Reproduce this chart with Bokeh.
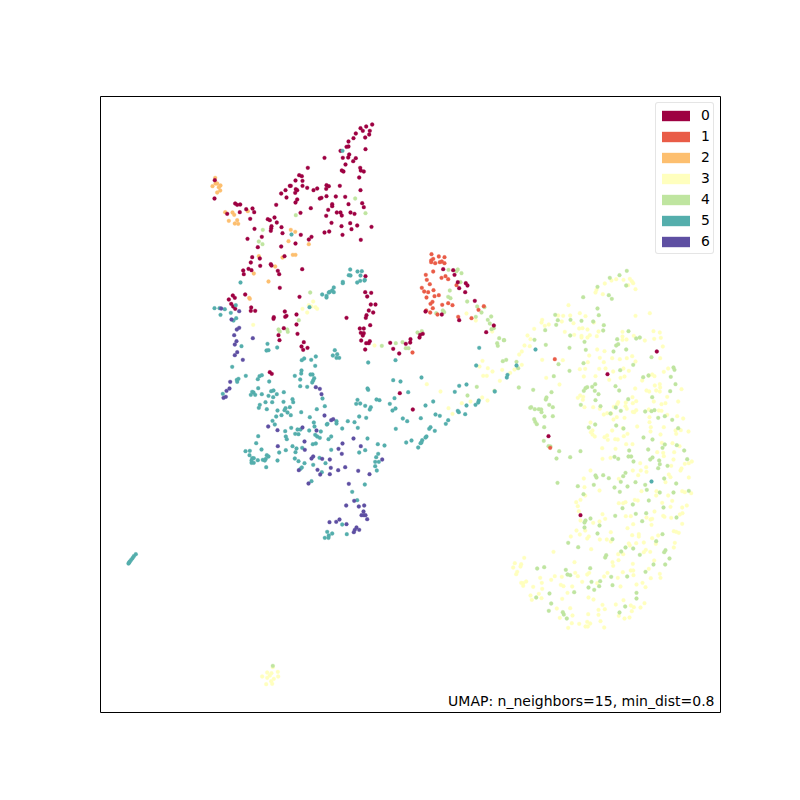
from bokeh.plotting import figure
from bokeh.models import Range1d, Legend, LegendItem, Label
from bokeh.embed import file_html
from bokeh.resources import INLINE

labels = ["0", "1", "2", "3", "4", "5", "6"]
colors = ["#9e0142", "#e95c47", "#fdbf6f", "#ffffbe", "#bfe5a0", "#54aeac", "#5e4fa2"]
annotation = "UMAP: n_neighbors=15, min_dist=0.8"

pts0 = [(371.7,124),(365.7,126),(360,127.7),(362.3,130.3),(369.3,130.3),(368.7,134),(355.3,133),(364.7,137),(353,137.7),(348,141),(346,146.3),(348,146),(340,150.3),(365,148.7),(348.7,154),(347.7,157),(342.3,157.3),(355.3,157.7),(352.7,160.7),(324,157.3),(345,164),(307.3,167.3),(359.7,167.3),(360.3,170),(363.3,171),(341.3,170),(343,171),(298.7,174.7),(301.3,175.7),(358.7,177),(295,180),(302,180.3),(214.3,179.7),(326,184.7),(328.3,185.7),(325.7,188.3),(339.3,185.3),(289.3,185.3),(290.3,185.3),(302,185.3),(306.7,187.3),(316.7,188),(313,189.7),(295.3,188.7),(296.7,189.7),(285,189.7),(360,189.7),(294.7,192.3),(280.7,193),(326,195.7),(335.3,196),(344.7,196.3),(321,197.3),(319.3,198),(286,197),(296.7,199),(214,198),(295,202),(331.7,203.7),(331.7,205.7),(348,203.7),(361.7,202.7),(363.3,206.7),(275.7,204.3),(310.3,207.7),(327.7,209.3),(234.7,203),(236.7,204.3),(239.7,204),(245.7,208.7),(252,208),(253.7,211.7),(226.7,213.3),(239.3,211.7),(300,212.3),(336.3,212),(340,212),(350,212),(354,213.3),(341.3,215),(325.7,215.3),(249.7,218.3),(274,217),(267.3,218.7),(269.3,219.7),(276.3,222),(331,222.3),(349.7,222.7),(341,225.7),(356.7,225),(371,226.3),(271,225.7),(270.7,227.7),(270.3,230.3),(281,226.7),(254,228.3),(351,228.7),(324,232),(328.7,231),(282,232.7),(300.3,234.3),(342,234.3),(261.3,236.3),(247,238.3),(311,236.3),(308.3,239),(360.3,239.3),(295,243),(280.7,246),(257.3,246.7),(284,255.7),(251.7,256.7),(259.3,258),(250.3,262),(270.3,263.7),(271,265),(259.7,265.3),(301.7,268.7),(248,268.3),(251,269.7),(242.7,270),(243.3,273.7),(277.3,270.3),(278.7,273.7),(365,275.7),(279.3,287.3),(364.7,291.7),(370.7,292.3),(366.7,296),(299,296.3),(232.3,295),(234.3,297.3),(244.7,294),(228.3,299),(230.7,303.3),(232.7,306),(234.7,308.3),(250.7,307),(254.7,310.3),(250.3,310.3),(284.3,311),(273.3,316.7),(273,318.3),(286,315.3),(284.7,316.3),(296,314),(296,324),(283.3,327.7),(278,334.7),(297,333.3),(279,339.7),(303.3,341.7),(301,346),(302.7,349.3),(307,347.3),(370.3,304),(375,304),(368.3,310),(372.7,312),(366,314.7),(365.3,317.3),(346,317.3),(369.7,324.7),(359.3,328),(363.3,328),(360.3,332.3),(363.3,332.7),(362.3,335),(360.7,340),(365.7,342.7),(368.3,342.7),(369.3,340.7),(364.7,349),(389.7,342.3),(392.7,348.3),(398.7,353),(269.3,371.7),(271.3,373.3),(399.3,392.7),(442.7,268.7),(452.7,269.7),(454,274.3),(457.3,281.7),(458.7,287.7),(465.3,282.7),(467,285),(464.7,291.7),(474.3,300.3),(425,311),(441.3,314),(458.7,319.7),(493.3,325),(485.7,331.7),(422.3,333.3),(419.7,334.3),(419,337),(410,338.7),(409.7,342),(405.3,343.3),(412.3,409),(656.3,351),(607,373.7),(548,435.7),(580,514.7)]

pts1 = [(431,253.7),(438.3,256),(444,256.7),(432.7,258.3),(430.7,260),(430.7,261.7),(434.7,262.7),(439.3,261.7),(441.3,261),(444,262.7),(432.7,271),(425.3,274.3),(426.3,279.3),(441,277.3),(445,275.7),(447.7,278.7),(429.3,283.7),(456,284.7),(421.3,287.3),(423.7,291),(427.7,291.7),(433,289.7),(426,297),(434,295.7),(438.3,294.7),(432,301.3),(430,303.3),(441.7,304.3),(447.7,302.7),(452,304.7),(432.3,307.7),(478,309.3),(483.3,305.7),(425.7,310),(429.7,312),(437,314),(457.7,316.3),(471,317.7),(412,352),(554.3,358.7),(549.7,447.3)]

pts2 = [(214.7,177.3),(215,183),(216.7,183),(220,185),(218.3,186.7),(212,185.7),(219.7,190),(216.7,192),(224.7,211.7),(232,212),(233.7,214.3),(247.3,210.7),(228.3,220.3),(236.7,219.7),(234.3,223),(237.7,223.3),(290.3,229.3),(294.7,231.3),(288,240.7),(308.3,243.7),(292.3,254.3),(295,254.3),(258.3,255.7),(282,257),(274.7,266),(253.3,273),(268,281),(248.7,297.3),(249.3,298.3)]

pts3 = [(272.3,666.7),(266.7,672),(277.3,671.3),(271,672.7),(261.7,676),(266.7,677.3),(277.7,676),(273.3,678.3),(270.7,680.7),(265.7,683.7),(271.7,683.3),(269.3,675),(466,313),(475.3,320),(491.7,331),(527,335),(530,338.7),(524,345),(529.3,345.7),(521.3,351),(518.7,354),(482,360.3),(479,366),(487.3,367.7),(492,371),(482.7,375.3),(486.3,375.3),(521.3,364.3),(514,369),(509.7,372.3),(501.7,369.3),(499.3,380.3),(426.3,383.7),(440,391),(481.7,397),(487,400),(461.3,402.7),(470,401),(448,407.7),(452,413.3),(312.7,301),(308.3,304.7),(311,306),(302,308.3),(306.7,312),(316.7,308.3),(315,306.7),(252.7,324.3),(374,345),(629.3,278.3),(631.3,280.7),(632.7,282.7),(623,279.3),(615.7,278.7),(604.3,283),(611,280),(627.7,284.7),(635,288.7),(596,289.3),(595,292),(602.3,293.7),(568,304.7),(579.3,312.7),(585,315.7),(569.7,315),(562.7,315.3),(557.7,315),(635,315.3),(649.3,312.7),(541.7,319.3),(541,322),(561.3,321),(548.3,324),(544.3,325.3),(573,322.7),(593.3,322),(582,327.7),(578.7,328),(533.7,328.3),(587,329),(564.3,331.3),(598,331),(622,331.3),(653,330.7),(659.3,332),(573.7,334.3),(581,335.3),(589.3,334.7),(587,337),(581,337),(596.3,335.7),(622,336),(622,339.3),(626,339),(633.3,335.3),(644.3,340),(653.7,338.3),(660.3,337.3),(662.3,346),(596.7,349),(604,350.7),(541.7,359.3),(562.3,359.7),(588.7,355),(599.3,357.3),(611.7,357.7),(619.3,358.7),(626.3,357.7),(631.7,355.7),(587.3,361.7),(603.3,361.7),(635,361),(659.7,357.7),(579.3,368.7),(584.7,368.3),(598.7,368.3),(605,368),(612.7,371),(623,368),(628.3,370.3),(663.3,371.3),(667.7,368),(651.7,374),(583.3,376),(545.7,377.3),(595,375.7),(620,377.3),(624,376),(648.3,375),(654,375.7),(641.7,380),(608.7,379.3),(559,384),(654.3,385),(659.3,383.7),(659.7,387),(634.7,388),(646,390),(648.7,391),(681,388.7),(659.3,391),(655.7,390),(666.7,396.3),(579.7,395),(577.3,397.3),(582.7,396.3),(632,396.7),(677.7,401),(582.3,399.3),(635.7,400.7),(632.3,402.7),(625.3,402),(617.7,401.7),(616.7,403.7),(653.3,401),(665,402.7),(661,403.7),(584,406.7),(592.7,406.7),(599.3,408.3),(625,405.7),(626.3,408.3),(613.3,406.3),(648.3,409),(635.7,409.7),(633.7,411.7),(658.3,410),(661,410.3),(603.3,414),(606.7,412.7),(610.7,413),(632.3,411.3),(666.7,414.3),(649,416.7),(649,421.7),(676.7,415.7),(682.7,418),(616.3,416.7),(613,419),(624,417.3),(590,422),(636.7,426),(650.3,426.7),(663.3,426.7),(622.3,427.7),(611.7,430),(592,430),(590.3,431.7),(592,434),(675,430),(680.3,429.7),(688,431),(650,431),(627,433.3),(675.7,433.3),(660,434),(623.3,435.7),(604,436.7),(606.7,435),(594.3,436),(607.3,439.3),(614.7,438.7),(617.3,439),(625.7,443.7),(632,443.7),(661.3,442.3),(672,442.7),(679,445.7),(601.7,447.7),(615,448.3),(656.7,451.7),(673.7,451.7),(662.7,452.3),(602,458.3),(610,457.3),(673,459),(663.3,455.7),(691.3,461),(688.3,462.7),(684.3,463.3),(670.7,465.3),(639.7,462.7),(645.7,466.7),(640.3,470),(646,471.3),(632.3,470),(680,470),(681,468),(590,470),(668.3,474),(670,476.7),(637.7,474.7),(618.3,478.3),(583.3,478),(688.3,477),(665,481.7),(584,486.7),(599,490),(641,490.7),(656,490.7),(667.7,495),(681.7,490.7),(690.7,492.7),(684.3,491.7),(584.7,495),(580,499.3),(575.7,501.7),(577.3,505.7),(634.3,499.3),(637.3,500),(671.7,500.3),(661.7,502.3),(655.7,495),(618.3,502.7),(622.7,502.7),(625,501.7),(686.3,505),(670,506.3),(681.7,507),(578.3,510.7),(654,511),(682,512.7),(679.3,514),(602,513.7),(625.3,515.7),(630.3,515.7),(662.7,515.3),(664,516.3),(670.7,517.3),(646,517),(604.7,518.3),(650,519),(681.7,523.3),(651.7,518.3),(580,520),(592.7,522.3),(599,521),(632.7,523.7),(651,524.3),(627,527.7),(584.7,530),(576,530),(673.3,530.7),(675.7,531.3),(678.3,532.3),(610.3,531.7),(579.3,534),(570.3,536),(588.3,536),(586.7,538),(599.3,539),(606.3,539),(610.3,541),(631.7,534.7),(638.3,533.7),(638.3,536),(651.7,537.7),(657.7,535),(635.7,542.7),(643.3,542),(655.3,543.3),(674.3,542.3),(673.3,547),(628.3,543),(629.3,545),(590.7,548.7),(553,551.3),(643.3,551.7),(645.3,549.3),(649.7,551.3),(617.7,553.7),(622.7,553.7),(523.7,557.3),(618,559.7),(574,561.7),(653.7,560),(632.3,563.3),(612,561.7),(612.7,565.3),(514.3,562.7),(512.7,567),(520.7,563.7),(520,566),(516.7,571.3),(515.7,573.7),(574.7,572.3),(588.7,572.3),(586.7,574),(607,572.3),(622.3,571.7),(630.3,570),(632.7,570),(648.3,568.3),(633,574.7),(659.3,573.3),(660,577.3),(650.3,577.7),(554.3,575.7),(539.7,577.3),(561.3,576.3),(577.3,575.7),(603.7,576),(617.3,577.3),(636,584),(642,582.3),(645,586.7),(581.7,581.3),(525.7,581),(522.7,582.7),(520.7,582.3),(522.7,585.3),(541.3,582.3),(550.7,579.3),(560.3,584.3),(563,585.7),(532.7,586.3),(541.7,588.3),(571.7,586),(596.7,582.7),(620,586),(567,592.3),(538.3,593.3),(541,597.7),(530,595),(531.3,599.3),(561.7,598.3),(588,597),(593,599),(623,599.7),(602,604.3),(615.3,604),(630.3,605),(633.3,606.7),(644,602.7),(640,607),(569.7,607.7),(556.3,608),(598,609.3),(604.3,608.7),(631.3,610.7),(587.7,613.7),(598,614.3),(572,615),(559.3,617.3),(618.3,615.3),(624,618),(629,617),(600,620.7),(586.7,621.3),(589.7,623),(578.7,623.3),(571.3,622.7),(585,626),(587.3,626),(567.7,627.3),(603.7,627)]

pts4 = [(272.3,665.3),(354.7,198),(365,212.7),(295.3,214.7),(262.3,229.3),(258.3,241),(262,243.7),(309.7,292),(298.3,319.7),(278,329),(279.3,331),(286.7,329),(287.3,331.3),(381.3,345.3),(395.3,342.7),(448,269.3),(457.3,269),(456,270.7),(461,272.7),(460,281.7),(449.3,290),(447.7,296.3),(450,297.7),(466.7,301),(476.7,306),(484,306.7),(442.3,310),(443.7,311.7),(435.7,312.7),(481,312),(475.3,316.3),(490.7,316),(487.3,319.3),(489.3,323),(493.3,327.7),(491,328.7),(417,332),(421.3,330.7),(498.7,337.7),(503.3,339.7),(496.7,342.7),(497.3,345.3),(402,341.7),(405.3,347.7),(408,347.7),(502.3,360.7),(505.7,359.3),(516,361.3),(517.7,367.7),(476.3,386.3),(518.3,387),(494,390.3),(467,395),(529.7,407.3),(626.3,270.3),(619,274.7),(609.3,277.3),(625.7,285),(597,286.3),(608.3,294.7),(611.3,298.3),(582.7,296.7),(597,308),(554.7,314.3),(557.3,319.7),(555.7,324.3),(570,319.3),(581,320.3),(592.7,321),(598.3,314.7),(603.3,324.7),(602.7,330),(544.7,329.7),(569.7,335),(534,339.3),(503.7,339.7),(628,330.7),(616.7,338.7),(635.7,338),(639.3,337),(584,341.3),(617.7,343.7),(615.7,345),(545.3,344.3),(569,347.3),(585.3,349.3),(625.7,349),(613,351),(651,356.7),(583,362.7),(632.7,364.3),(558,363.7),(619.7,369.7),(569,370.3),(673,367),(674,369.3),(553.3,375.7),(642.7,376.7),(670.3,376.3),(648,375),(594.7,383.7),(675,383.7),(615,385.7),(586.7,386.7),(585,387.7),(583.3,390.3),(591.7,386.3),(594.3,390.3),(532.7,389.3),(551,391.7),(618.7,390),(669.7,390.7),(598,393.7),(546,397),(545.3,399),(651.7,396.7),(627.7,398.7),(595,399.7),(548.7,404.3),(580.3,404.3),(552.3,406.7),(600,405.7),(615.3,407),(530.7,406.7),(534.3,408.7),(538.3,408.7),(540.7,409),(541,411.7),(620.3,410.3),(644.7,411),(651,410.7),(654,409.7),(552.3,415.7),(544,416),(610,413),(657.7,417.3),(664.3,415.7),(533.7,418.7),(534.7,421.3),(536.3,423.7),(671.7,419.3),(615.7,425),(594.7,424),(543.7,426.7),(588.3,427),(677.7,427.7),(623,428),(643,437),(652,439),(543.3,440.3),(664.3,444),(647.7,449),(676.3,444.7),(662,447.3),(683.7,450),(548,445.7),(550,446),(558.7,450.7),(580,450.7),(628.7,450),(556,458),(569.7,456.7),(614,456.3),(617.7,458.3),(628,456),(630.7,456),(652,457),(649.7,459),(658.7,460),(659.3,463.7),(657.7,467.7),(667,465.3),(633,461),(686.7,458.7),(625,472.3),(622.7,475.7),(595,475),(596,477),(602.7,474.7),(608.3,477.7),(663.7,478),(620.3,481.3),(635,481.7),(557,482.3),(675.7,483),(644.7,484.3),(593.3,484.3),(577.3,485.7),(614,487),(627,486),(646.3,489.3),(688.3,490.3),(619.3,491.3),(659.3,492),(673,492),(583,493.7),(648.3,500),(632.3,504),(622,507.7),(663,507),(635.3,513.3),(645.7,512.7),(614.7,515.3),(590,518),(676,517),(641.7,520.7),(585,520),(584,522),(599,525),(584,527),(597,533),(662,533.7),(612,538.7),(655.7,540.7),(567.7,542.3),(577.7,546.7),(625,547),(632.7,548),(620.7,551),(665,549.7),(663.7,551.7),(639.3,554.3),(605.7,554.7),(604.7,557),(669,558),(653,564),(664.7,564),(543.7,566.7),(536.7,568),(589.7,567.7),(565.3,569.3),(645,571.3),(567,574),(569.7,574.7),(610.7,576.3),(626.7,576),(591,581.3),(599.7,580.7),(612,584.7),(588,587),(598.7,585.7),(593.7,589.3),(573.7,591.7),(549,593),(636,592.3),(535.7,597),(636,598),(550.7,603),(624.7,606),(548.3,610.3),(562.3,611.7),(563.3,614),(619,612),(566.3,618)]

pts5 = [(342,150.3),(291,234),(349.7,269),(357,271),(361.3,270.7),(348.3,274.7),(350,275),(360,275),(342.3,281.3),(342.3,282.7),(356.7,282),(359.7,280.3),(364,280),(364.3,279.3),(240,282),(333.3,287),(331.7,290),(333.3,291.7),(328.3,292),(329.3,291.3),(321.7,294),(326,295.3),(326,297),(309,306.7),(235.3,304.7),(214,307.7),(219,307.7),(224.3,308.7),(220,314.3),(230.3,312.3),(235.7,317.7),(233,320),(267,343.3),(241,345.7),(266,350),(268,349.7),(276.7,347),(334.3,349.7),(332.3,355),(336.7,353.7),(336,357.3),(338.7,357.3),(315.3,356),(310.7,359.3),(303.7,358),(301.3,359.7),(314.7,365.3),(367.7,362),(395,359.7),(231.7,366.3),(301,370),(300.7,373),(261.3,374.7),(259,375.7),(257.3,378.7),(245.3,375.3),(238,378.3),(236.3,379.3),(236.7,381.3),(294.3,375.3),(310,374),(312,374),(299.7,379),(313.7,377.7),(312.7,380),(311.7,382),(268.7,381),(392.7,379.7),(400,381),(299.7,385.7),(306.7,386.3),(257.7,387.7),(367,388),(367.7,389.3),(251.7,391.3),(253,392),(250.3,394.3),(254.7,394.3),(261.3,393.7),(270.7,390.7),(273,390),(283.3,391.7),(276.3,393.7),(268,395.3),(272.7,396.7),(222.3,393.3),(292,398.7),(292.7,401.7),(322,398),(265,401.7),(271.7,401.7),(283,401.3),(357,399.3),(355.7,403.3),(359.7,403),(376,399),(379,399.7),(394,397.7),(389.3,403.3),(324.3,405.7),(364.7,405.3),(259.3,404.3),(258.3,407.3),(266.3,408.7),(289.3,406.7),(285,407.7),(284,409.7),(277,410),(287,412),(316.3,408.7),(370.3,406.7),(369.3,409),(395,408),(392,410),(300.7,411.7),(281,414.7),(290.3,414.7),(275.7,416),(309.3,416.7),(358.7,416),(365.7,417.3),(272,420.3),(274.3,424),(313.3,422),(314,426),(347.3,420.7),(354,421.7),(336,420.7),(336,423),(327,423.3),(326.3,424),(290.7,427.3),(341.7,428),(357.3,427.3),(395.3,428.3),(284.7,430.7),(297,429),(300,429),(308.7,430),(320.3,431),(294.7,433.3),(298,433.7),(257.7,435.7),(285.3,436),(286.3,438.7),(314.7,434.3),(316.7,436),(319.3,437.3),(328,438.7),(330.7,436),(367,438),(255.7,442.7),(312.3,443.7),(315.3,443),(377.3,443.7),(384,445),(292,445.7),(301.7,447.3),(296,448),(261,449),(245,450.7),(249.3,450.3),(285.3,449.7),(330.7,449.3),(364.7,449.7),(278.7,452),(295,451.7),(358.7,452),(249,454.7),(251.7,457.7),(266.3,454.7),(268,456),(265.3,458.3),(294.3,458),(319,457.3),(377.7,453.3),(375.7,456.7),(253.3,457.7),(251,460),(253.3,462.3),(251,462.3),(257.3,459.7),(262.3,459.3),(264.3,460),(277,460),(298,460.7),(304,462.7),(312.7,464.3),(325,462.7),(374.7,461.3),(378.3,461.3),(374.7,465.7),(265.7,466.7),(301.3,467),(300,468.3),(376.3,470),(321.3,471.7),(311,480.7),(364.3,484),(351.7,491.3),(356.7,499.7),(341.7,524),(326.7,531.3),(331.7,533),(328.3,535),(328,537.3),(324.3,537.3),(346.3,533.7),(478.7,347.3),(475.7,365),(507,374.3),(506.3,377),(516,365),(421,377),(458.7,385.3),(466,384),(454.3,391.3),(407.7,391.7),(494.3,391),(432.7,401),(425,405),(478.3,400),(477.7,402),(475,404.3),(466,405),(457.3,410.3),(458.3,411.7),(464.7,413.7),(435,414),(439.3,415.3),(420.3,417.7),(402.3,418),(406.7,420.7),(447.7,419.7),(445.3,423.3),(430,426.7),(428.7,428.3),(434.3,430.3),(426,436),(425,437),(421.7,439.7),(421,442),(420,442.7),(417.7,447),(411,440),(405.7,442),(535,349),(651,481),(135.3,553.7),(133.3,555.7),(132,557.7),(130.7,559.3),(129.3,561),(128,563),(128.7,562)]

pts6 = [(220.7,308),(238.7,310.7),(231,319),(238.7,327.3),(236.3,329),(233.7,334.7),(236,340.7),(234.3,344),(236.7,351.7),(234.3,354.7),(252.3,337.7),(242.3,359.3),(229.7,381.3),(229,388),(226,390.3),(225.3,396.3),(223,397.3),(315.3,386.7),(319.3,388.3),(321,393.7),(324,415),(330.7,419.7),(332.7,418.7),(267.7,426),(277,429.7),(302,427),(316,430),(353,438),(304,441),(342,443),(277.3,445.7),(360.3,445.7),(338,448.3),(304.3,449.3),(341.3,453.3),(312.7,456),(311,458),(321.7,458.3),(329.3,459),(381.7,459),(344.7,466.7),(330.3,467.3),(337.7,469.7),(357.7,470.3),(317,469.3),(298.3,469.7),(319.7,474),(329.3,473.7),(369,473.7),(308,483),(348.3,483.3),(353.7,500.3),(345.7,505),(363.7,505),(358.3,506),(363,511),(361,514.7),(363.3,514.7),(365,514.7),(366.7,518.7),(339,519),(335.7,521.3),(329,521.7),(346,523.7),(356,527),(354.3,529.3),(358.7,529.3),(353.3,531.7)]

series = [pts0, pts1, pts2, pts3, pts4, pts5, pts6]

p = figure(frame_width=620, frame_height=616, min_border_left=100, min_border_top=96,
           min_border_right=72, min_border_bottom=80,
           x_range=Range1d(100, 720), y_range=Range1d(712, 96),
           output_backend="svg", toolbar_location=None, tools="")
p.axis.visible = False
p.grid.visible = False
p.outline_line_color = "black"
p.outline_line_width = 1
p.outline_line_alpha = 1
p.background_fill_color = "white"
p.border_fill_color = "white"

for i in [3, 4, 2, 1, 0, 5, 6]:
    xs = [q[0] for q in series[i]]
    ys = [q[1] for q in series[i]]
    p.scatter(xs, ys, size=3.8, fill_color=colors[i], line_color=colors[i], line_width=0.3)

nan = float("nan")
items = []
for lab, col in zip(labels, colors):
    r = p.quad(left=[nan], right=[nan], top=[nan], bottom=[nan], fill_color=col, line_color=None)
    items.append(LegendItem(label=lab, renderers=[r]))
legend = Legend(items=items, location="top_right", glyph_width=35, glyph_height=13,
                label_text_font="DejaVu Sans", label_text_font_size="13.9px",
                label_standoff=8, spacing=1, padding=2, margin=6, label_text_color="black",
                border_line_color="#cccccc", border_line_width=1, background_fill_alpha=0.8,
                label_height=20, label_width=10, border_radius=3)
p.add_layout(legend)

p.add_layout(Label(x=714, y=700, text=annotation, text_align="right", text_baseline="alphabetic",
                   text_font="DejaVu Sans", text_font_size="14px", text_color="black"))

open("out.html", "w").write(file_html(p, INLINE))
